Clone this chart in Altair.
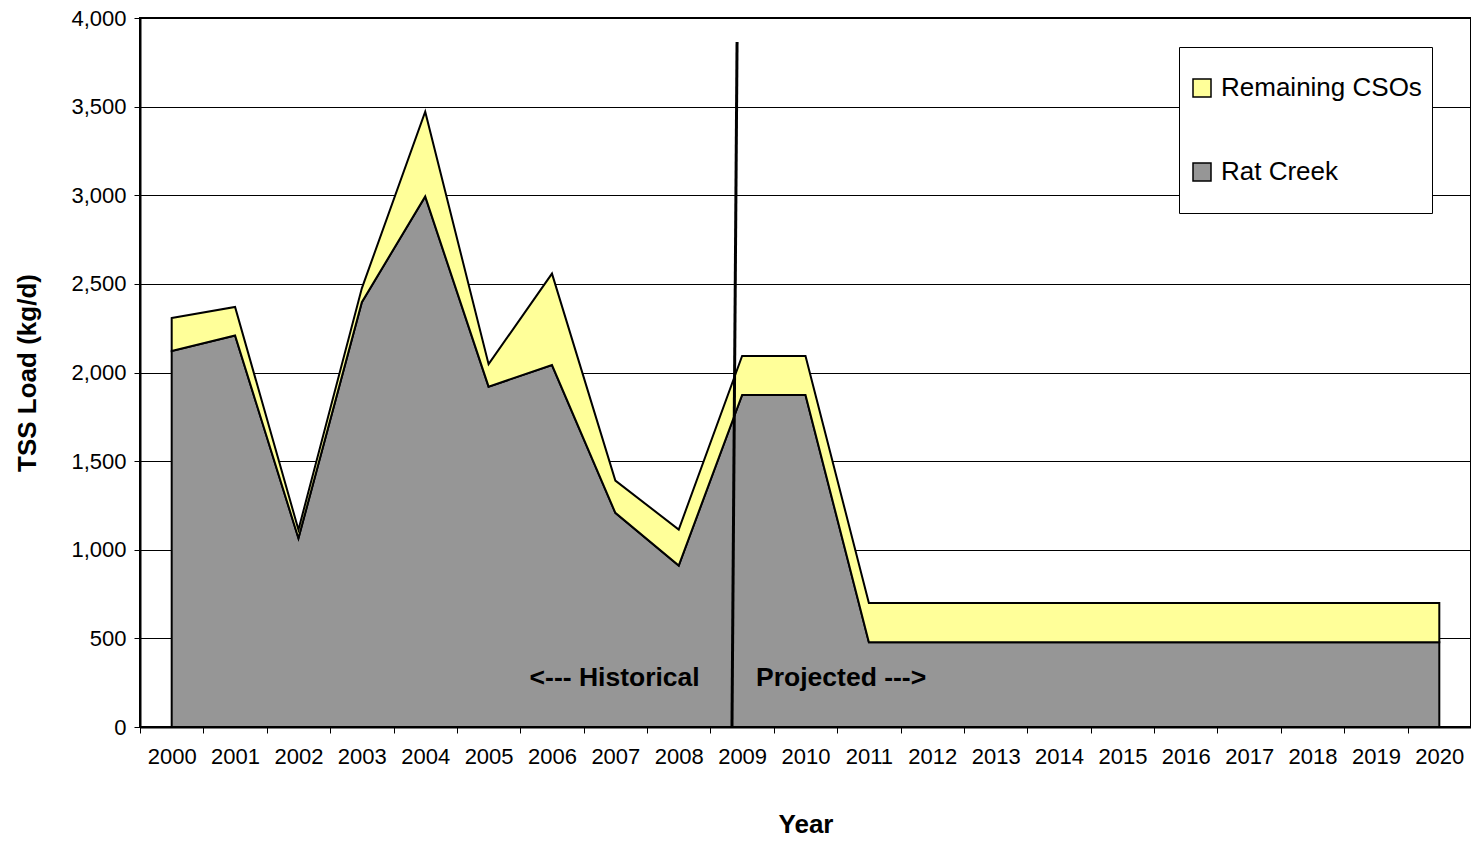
import altair as alt
import pandas as pd

years = list(range(2000, 2021))
rat_creek = [2121, 2209, 1065, 2397, 2993, 1920, 2042, 1208, 911, 1873, 1873,
             478, 478, 478, 478, 478, 478, 478, 478, 478, 478]
remaining_csos = [186, 161, 48, 78, 478, 127, 516, 182, 203, 220, 220,
                  222, 222, 222, 222, 222, 222, 222, 222, 222, 222]
series_names = ["Remaining CSOs", "Rat Creek"]
series_colors = ["#FFFF99", "#969696"]

rows = []
for y, rc, rem in zip(years, rat_creek, remaining_csos):
    rows.append({"year": y, "series": "Rat Creek", "value": rc, "ord": 0})
    rows.append({"year": y, "series": "Remaining CSOs", "value": rem, "ord": 1})
df = pd.DataFrame(rows)

# divider between historical and projected
div_x_top, div_x_bottom = 2008.92, 2008.84
div_y_top, div_y_bottom = 3865, 0
note_x = [2008.33, 2009.22]
note_y = [276, 276]
note_text = ["<--- Historical", "Projected --->"]

FONT = "Liberation Sans"
xscale = alt.Scale(domain=[1999.5, 2020.5], nice=False, zero=False)
yscale = alt.Scale(domain=[0, 4000], nice=False)
tick_vals = [y - 0.5 for y in years] + [years[-1] + 0.5] + years

x_axis = alt.Axis(values=tick_vals,
                  labelExpr="datum.value % 1 == 0 ? datum.value : ''",
                  tickOpacity={"condition": {"test": "datum.value % 1 != 0", "value": 1}, "value": 0},
                  grid=False, tickSize=6, labelPadding=13, labelOverlap=False,
                  labelFontSize=22, titleFontSize=26, titleFontWeight="bold",
                  titlePadding=44, domainColor="black", domainWidth=2, tickColor="black",
                  labelColor="black", titleColor="black", labelFont=FONT, titleFont=FONT,
                  labelFlush=False)
y_axis = alt.Axis(values=list(range(0, 4001, 500)),
                  labelExpr="format(datum.value, ',')",
                  grid=True, gridColor="black", gridWidth=1,
                  tickSize=6, labelPadding=8, labelFontSize=22,
                  titleFontSize=26, titleFontWeight="bold", titlePadding=30,
                  domainColor="black", domainWidth=2, tickColor="black",
                  labelColor="black", titleColor="black", labelFont=FONT, titleFont=FONT)

area = alt.Chart(df).mark_area(stroke="black", strokeWidth=2, interpolate="linear").encode(
    x=alt.X("year:Q", scale=xscale, title="Year", axis=x_axis),
    y=alt.Y("value:Q", stack="zero", title="TSS Load (kg/d)", scale=yscale, axis=y_axis),
    color=alt.Color("series:N", scale=alt.Scale(domain=series_names, range=series_colors),
                    legend=alt.Legend(title=None, orient="none", legendX=1039, legendY=29,
                                      fillColor="white", strokeColor="black", padding=10,
                                      symbolType="square", symbolSize=324,
                                      symbolStrokeColor="black", symbolStrokeWidth=1.5,
                                      symbolOpacity=1, labelFontSize=26, labelFont=FONT,
                                      labelColor="black", labelOffset=6, labelLimit=400,
                                      clipHeight=62, rowPadding=22)),
    order=alt.Order("ord:Q"),
)

divider = pd.DataFrame({"x": [div_x_top], "x2": [div_x_bottom],
                        "y": [div_y_top], "y2": [div_y_bottom]})
rule = alt.Chart(divider).mark_rule(color="black", strokeWidth=3).encode(
    x=alt.X("x:Q", scale=xscale, title="Year", axis=x_axis), x2="x2:Q",
    y=alt.Y("y:Q", scale=yscale, title="TSS Load (kg/d)", axis=y_axis), y2="y2:Q",
)

left_df = pd.DataFrame({"x": [note_x[0]], "y": [note_y[0]], "text": [note_text[0]]})
right_df = pd.DataFrame({"x": [note_x[1]], "y": [note_y[1]], "text": [note_text[1]]})

text_left = alt.Chart(left_df).mark_text(fontSize=26.5, fontWeight="bold", font=FONT,
                                         color="black", baseline="middle", align="right").encode(
    x=alt.X("x:Q", scale=xscale, title="Year", axis=x_axis),
    y=alt.Y("y:Q", scale=yscale, title="TSS Load (kg/d)", axis=y_axis), text="text:N")
text_right = alt.Chart(right_df).mark_text(fontSize=26.5, fontWeight="bold", font=FONT,
                                           color="black", baseline="middle", align="left").encode(
    x=alt.X("x:Q", scale=xscale, title="Year", axis=x_axis),
    y=alt.Y("y:Q", scale=yscale, title="TSS Load (kg/d)", axis=y_axis), text="text:N")

chart = alt.layer(area, rule, text_left, text_right).properties(
    width=1331, height=709,
    autosize=alt.AutoSizeParams(type="none"),
    padding={"left": 132, "top": 10, "right": 0, "bottom": 111},
    background="white",
).configure_view(stroke="black", strokeWidth=2)

chart.save("out.html", embed_options={"renderer": "svg", "actions": False})
